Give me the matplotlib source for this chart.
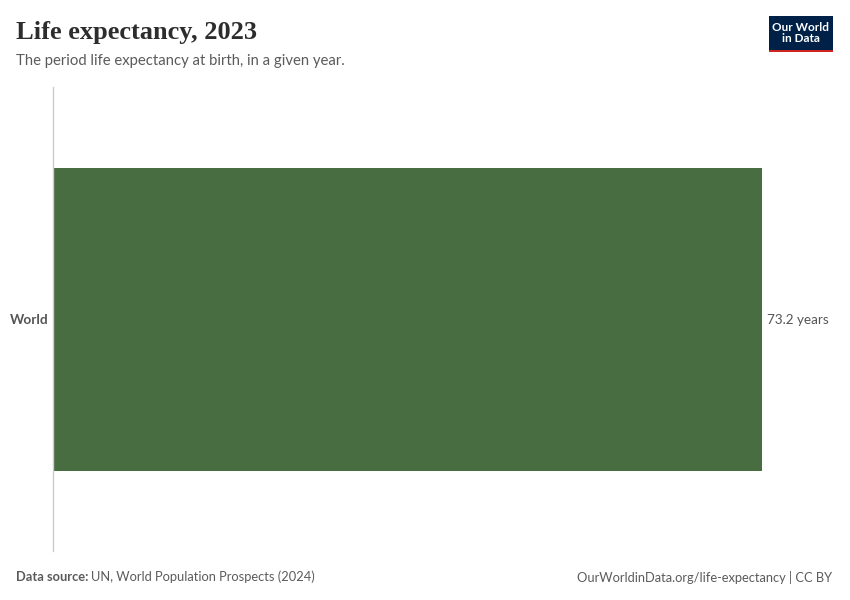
import matplotlib
matplotlib.use("Agg")
import matplotlib.pyplot as plt
from matplotlib.patches import Rectangle

categories = ["World"]
values = [73.2]
value_labels = ["73.2 years"]

W, H = 850, 600
fig = plt.figure(figsize=(8.5, 6), dpi=100)

def fx(px):
    return px / W

def fy(py):
    return 1 - py / H

# Axes: x from 53 to 762, y from 87 to 551
ax = fig.add_axes([fx(53), fy(551), fx(762 - 53), (551 - 87) / H])
ax.barh(categories, values, height=303 / 464, color="#486d41", edgecolor="none")
ax.set_xlim(0, 73.2)
ax.set_ylim(-0.5, 0.5)
for s in ["top", "right", "bottom"]:
    ax.spines[s].set_visible(False)
ax.spines["left"].set_color("#cccccc")
ax.spines["left"].set_linewidth(1)
ax.set_xticks([])
ax.tick_params(axis="y", length=0, pad=3)
for lbl in ax.get_yticklabels():
    lbl.set_fontfamily("Lato")
    lbl.set_fontweight("bold")
    lbl.set_fontsize(9.8)
    lbl.set_color("#555555")
for i, (v, t) in enumerate(zip(values, value_labels)):
    ax.text(v + 0.5, i - 0.003, t, va="center", ha="left", fontsize=9.7,
            family="Lato", color="#555555", clip_on=False)

# Title and subtitle
fig.text(fx(16), fy(33), "Life expectancy, 2023", fontsize=19, family="Liberation Serif",
         fontweight="bold", color="#2d2d2d", va="center", ha="left")
fig.text(fx(16), fy(61), "The period life expectancy at birth, in a given year.",
         fontsize=10.7, family="Lato", color="#5b5b5b", va="center", ha="left")

# Logo
fig.patches.append(Rectangle((fx(769), fy(50)), fx(833 - 769), (50 - 16) / H,
                             transform=fig.transFigure, facecolor="#002147",
                             edgecolor="none"))
fig.patches.append(Rectangle((fx(769), fy(52)), fx(833 - 769), 2.5 / H,
                             transform=fig.transFigure, facecolor="#ce261e",
                             edgecolor="none"))
fig.text(fx(801), fy(33), "Our World\nin Data", fontsize=8.5, family="Lato",
         fontweight="bold", color="white", ha="center", va="center",
         linespacing=0.95)

# Footer
fig.text(fx(16), fy(577), "Data source:", fontsize=9.3, family="Lato",
         fontweight="bold", color="#5b5b5b", va="center", ha="left")
fig.text(fx(91), fy(577), "UN, World Population Prospects (2024)", fontsize=9.3,
         family="Lato", color="#5b5b5b", va="center", ha="left")
fig.text(fx(832), fy(577), "OurWorldinData.org/life-expectancy | CC BY", fontsize=9.3,
         family="Lato", color="#5b5b5b", va="center", ha="right")

fig.savefig("out.png", dpi=100, facecolor="white")
